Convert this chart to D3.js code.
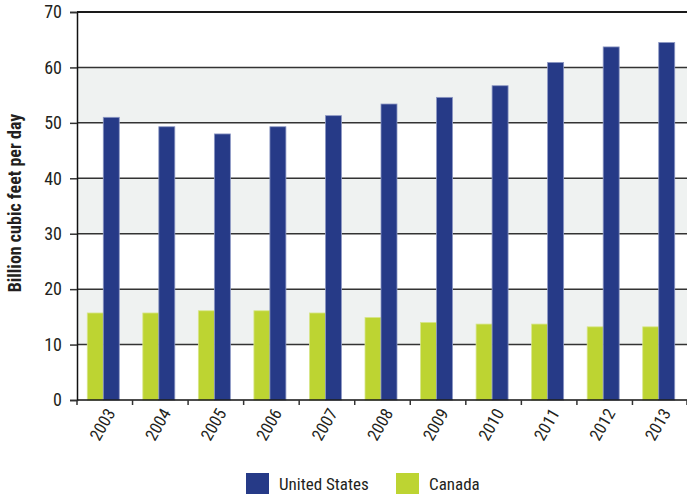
<!DOCTYPE html>
<html><head><meta charset="utf-8">
<script src="https://cdn.jsdelivr.net/npm/d3@7"></script>
<style>body{margin:0;background:#fff}svg text{font-family:"Liberation Sans Narrow","Roboto Condensed","Liberation Sans",sans-serif;fill:#231f20}</style>
</head><body><svg id="c" width="687" height="497"></svg>
<script>
const years = ["2003","2004","2005","2006","2007","2008","2009","2010","2011","2012","2013"];
const unitedStates = [51.0,49.3,48.0,49.3,51.3,53.4,54.6,56.7,60.9,63.7,64.5];
const canada = [15.7,15.7,16.1,16.1,15.7,14.9,14.0,13.7,13.7,13.2,13.2];
const yTicks = [0,10,20,30,40,50,60,70];
const seriesNames = ["United States","Canada"];
const colors = {"United States":"#263a87","Canada":"#bdd432"};

const svg = d3.select("#c");
const L=77, R=688, T=12, B=400;
const x = d3.scaleBand().domain(years).range([L,R]).paddingInner(0).paddingOuter(0);
const y = d3.scaleLinear().domain([0,70]).range([B,T]);

[[10,20],[30,40],[50,60]].forEach(([a,b])=>{
  svg.append("rect").attr("x",L).attr("y",y(b)).attr("width",R-L).attr("height",y(a)-y(b)).attr("fill","#eff2f1");
});
svg.append("g").selectAll("line").data(yTicks.filter(d=>d>0)).join("line")
  .attr("x1",L).attr("x2",R).attr("y1",d=>y(d)).attr("y2",d=>y(d))
  .attr("stroke",d=>d===70?"#1a1a1a":"#333").attr("stroke-width",d=>d===70?2:1.5);

const bw = 16;
years.forEach((yr,i)=>{
  const cx = x(yr)+x.bandwidth()/2 - 1.5;
  svg.append("rect").attr("x",cx-bw).attr("y",y(canada[i])).attr("width",bw).attr("height",y(0)-y(canada[i]))
    .attr("fill",colors["Canada"]).attr("stroke","#d8e68a").attr("stroke-width",0.8);
  svg.append("rect").attr("x",cx).attr("y",y(unitedStates[i])).attr("width",bw).attr("height",y(0)-y(unitedStates[i]))
    .attr("fill",colors["United States"]).attr("stroke","#8d98c4").attr("stroke-width",0.8);
});

const ya = svg.append("g").attr("transform",`translate(${L},0)`)
  .call(d3.axisLeft(y).tickValues(yTicks).tickSize(7).tickPadding(8));
ya.select(".domain").attr("stroke","#111").attr("stroke-width",1.5);
ya.selectAll(".tick line").attr("stroke","#333").attr("stroke-width",1.5);
ya.selectAll(".tick text").attr("font-size",18).attr("fill","#231f20");

svg.append("line").attr("x1",L).attr("x2",R).attr("y1",B).attr("y2",B).attr("stroke","#111").attr("stroke-width",1.5);
const bounds = years.map(d=>x(d)).concat([R-1]);
svg.append("g").selectAll("line").data(bounds).join("line")
  .attr("x1",d=>d).attr("x2",d=>d).attr("y1",B).attr("y2",B+5).attr("stroke","#333").attr("stroke-width",1.5);
svg.append("g").selectAll("text").data(years).join("text")
  .attr("transform",d=>`translate(${x(d)+x.bandwidth()/2+6},${B+10}) rotate(-60)`)
  .attr("text-anchor","end").attr("dy","0.35em").attr("font-size",17).text(d=>d);

svg.append("text").attr("transform",`translate(21,${203}) rotate(-90)`)
  .attr("text-anchor","middle").attr("font-size",18).attr("font-weight","bold").text("Billion cubic feet per day");

const leg = [{n:"United States",x:246},{n:"Canada",x:396}];
leg.forEach(l=>{
  svg.append("rect").attr("x",l.x).attr("y",473).attr("width",23).attr("height",21).attr("fill",colors[l.n]);
  svg.append("text").attr("x",l.x+33).attr("y",484).attr("dy","0.35em").attr("font-size",17).text(l.n);
});
</script></body></html>
